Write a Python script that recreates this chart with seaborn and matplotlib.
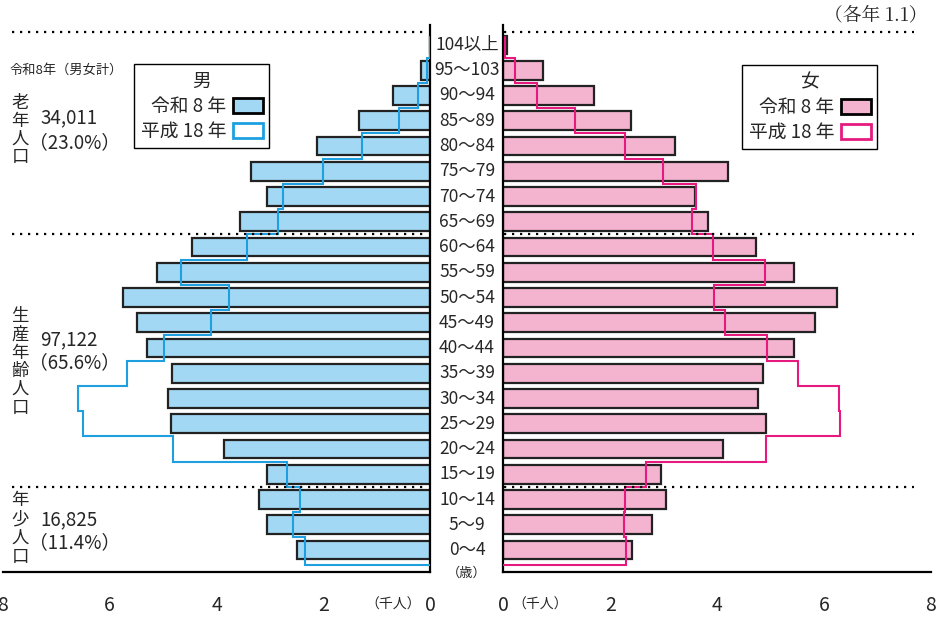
import pandas as pd
import seaborn as sns
import matplotlib.pyplot as plt
from matplotlib.patches import Patch

# age groups, top to bottom
ages = ['104以上', '95～103', '90～94', '85～89', '80～84', '75～79', '70～74',
        '65～69', '60～64', '55～59', '50～54', '45～49', '40～44', '35～39',
        '30～34', '25～29', '20～24', '15～19', '10～14', '5～9', '0～4']

# thousands of people
male_r8 = [0.005, 0.16, 0.69, 1.33, 2.12, 3.36, 3.05, 3.56, 4.46, 5.12, 5.75,
           5.49, 5.31, 4.83, 4.91, 4.86, 3.86, 3.05, 3.20, 3.05, 2.50]
male_h18 = [0.0, 0.05, 0.22, 0.58, 1.27, 2.00, 2.76, 2.85, 3.43, 4.67, 3.76,
            4.10, 4.99, 5.67, 6.60, 6.51, 4.81, 2.67, 2.43, 2.56, 2.35]
female_r8 = [0.075, 0.75, 1.69, 2.39, 3.22, 4.20, 3.58, 3.84, 4.73, 5.44, 6.24,
             5.83, 5.44, 4.86, 4.76, 4.91, 4.11, 2.95, 3.05, 2.79, 2.40]
female_h18 = [0.03, 0.21, 0.63, 1.34, 2.28, 2.99, 3.61, 3.53, 3.93, 4.89, 3.95,
              4.15, 4.93, 5.52, 6.29, 6.30, 4.91, 2.67, 2.27, 2.25, 2.29]

groups = [('老年人口', '34,011', '（23.0%）'),
          ('生産年齢人口', '97,122', '（65.6%）'),
          ('年少人口', '16,825', '（11.4%）')]

sns.set_style('white')
plt.rcParams['font.family'] = ['Noto Sans CJK JP', 'DejaVu Sans']

W, H = 944, 617
fig = plt.figure(figsize=(W / 100, H / 100), dpi=100)


def px_axes(x0, x1, y0, y1):
    return fig.add_axes([x0 / W, 1 - y1 / H, (x1 - x0) / W, (y1 - y0) / H])


def ftext(x, y, s, **kw):
    fig.text(x / W, 1 - y / H, s, **kw)


ax_l = px_axes(3, 430, 25, 572)
ax_r = px_axes(503.3, 930.7, 25, 572)

m_fill, m_line = '#a3d8f4', '#1ea0e0'
f_fill, f_line = '#f4b3cf', '#e6197f'


def step_path(vals):
    xs, ys = [], []
    for p, v in enumerate(vals):
        xs += [v, v]
        ys += [p - 0.3 if p == 0 else p - 0.5, p + 0.5]
    ys[-1] = len(vals) - 0.4
    xs.append(0)
    ys.append(len(vals) - 0.4)
    return xs, ys


for ax, cur, old, fill, line in [(ax_l, male_r8, male_h18, m_fill, m_line),
                                 (ax_r, female_r8, female_h18, f_fill, f_line)]:
    df = pd.DataFrame({'age': ages, 'value': cur})
    sns.barplot(data=df, x='value', y='age', orient='h', color=fill,
                saturation=1, edgecolor='#222222', linewidth=1.6, width=0.75,
                ax=ax)
    xs, ys = step_path(old)
    ax.plot(xs, ys, color=line, lw=1.5, zorder=3, solid_joinstyle='miter')
    ax.set_ylim(20.871, -0.792)
    ax.set_xticks([0, 2, 4, 6, 8])
    ax.set_xticklabels(['0', '2', '4', '6', '8'])
    ax.tick_params(axis='x', direction='out', length=9.5, width=1.6,
                   labelsize=14, pad=7, color='black')
    ax.tick_params(axis='y', left=False, labelleft=False, right=False)
    ax.xaxis.get_major_ticks()[0].tick1line.set_visible(False)
    ax.set_xlabel('')
    ax.set_ylabel('')
    for s in ax.spines.values():
        s.set_visible(False)
        s.set_linewidth(1.6)
        s.set_color('black')
    ax.spines['bottom'].set_visible(True)

ax_l.set_xlim(8, 0)
ax_r.set_xlim(0, 8)
ax_l.spines['right'].set_visible(True)
ax_r.spines['left'].set_visible(True)

# dotted separators
for yb in [-0.5, 7.5, 17.5]:
    ax_l.plot([7.83, 0.04], [yb, yb], color='black', lw=1.6,
              dashes=(1, 2.6), zorder=4)
    ax_r.plot([0.02, 7.69], [yb, yb], color='black', lw=1.6,
              dashes=(1, 2.6), zorder=4)

# age labels in the gap
for p, a in enumerate(ages):
    ax_r.text(-0.68, p, a, ha='center', va='center', fontsize=12.5,
              clip_on=False)
ftext(467, 573, '（歳）', ha='center', va='center', fontsize=9.5)
ftext(393, 605, '（千人）', ha='center', va='center', fontsize=10)
ftext(540, 605, '（千人）', ha='center', va='center', fontsize=10)
ftext(927, 15, '（各年 1.1）', ha='right', va='center', fontsize=13.5,
      family=['Noto Serif CJK JP', 'Noto Sans CJK JP'])
ftext(10, 70, '令和8年（男女計）', ha='left', va='center', fontsize=9.5)

# group annotations on the left
char_y = [[103, 121, 139, 157],
          [316, 335, 353, 371, 389, 408],
          [500, 519, 538, 557]]
num_y = [(118, 143), (340, 363), (520, 543)]
for (name, num, pct), cys, (ny, py) in zip(groups, char_y, num_y):
    for ch, cy in zip(name, cys):
        ftext(20, cy, ch, ha='center', va='center', fontsize=12.5)
    ftext(40, ny, num, ha='left', va='center', fontsize=13.5)
    ftext(29, py, pct, ha='left', va='center', fontsize=13.5)

# legends
for ax, title, fill, line, x0, y0 in [(ax_l, '男', m_fill, m_line, 134, 64),
                                      (ax_r, '女', f_fill, f_line, 742, 65)]:
    handles = [Patch(facecolor=fill, edgecolor='black', linewidth=2),
               Patch(facecolor='white', edgecolor=line, linewidth=2)]
    leg = ax.legend(handles, ['令和 8 年', '平成 18 年'], title=title,
                    loc='upper left', bbox_to_anchor=(x0 / W, 1 - y0 / H),
                    bbox_transform=fig.transFigure, markerfirst=False,
                    fontsize=13.5, title_fontsize=13.5, handlelength=1.6,
                    handleheight=0.85, handletextpad=0.35, borderpad=0.35,
                    labelspacing=0.22, fancybox=False, framealpha=1,
                    edgecolor='black', borderaxespad=0)
    leg.get_frame().set_linewidth(1.0)

fig.savefig('out.png', dpi=100)
